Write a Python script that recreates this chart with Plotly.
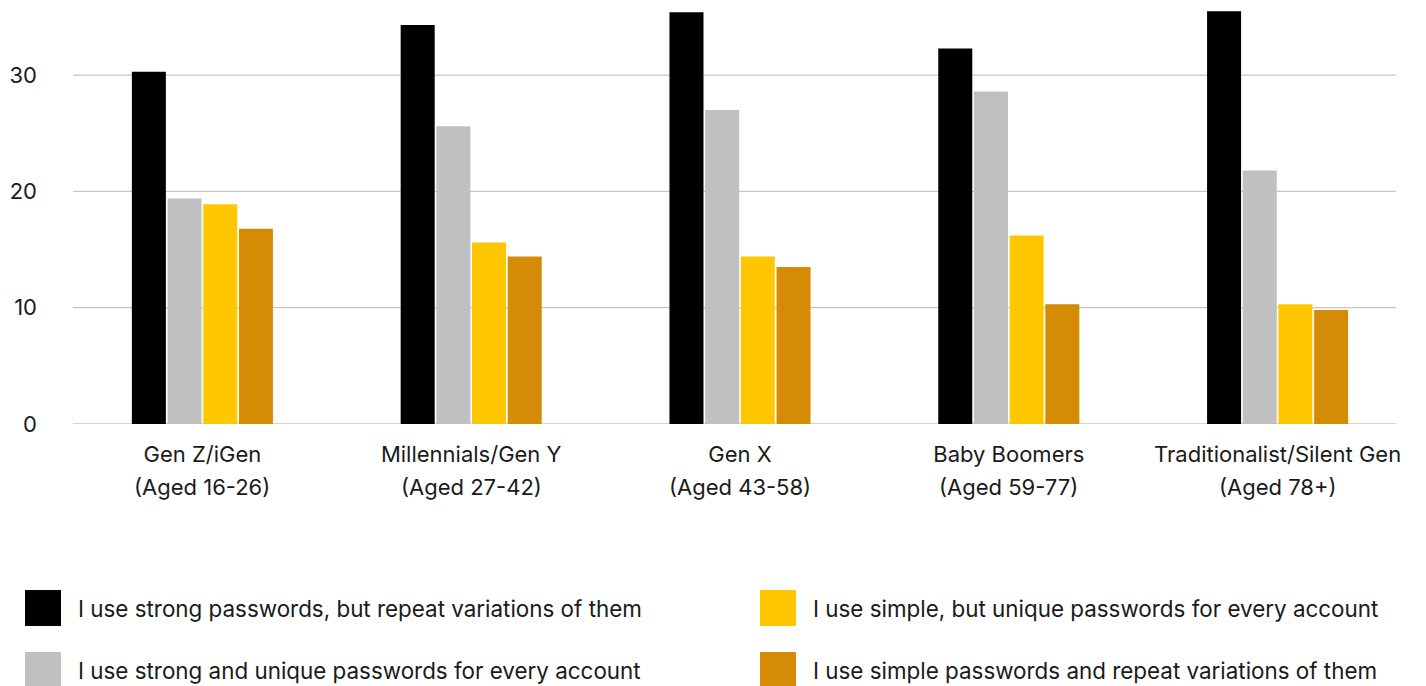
import plotly.graph_objects as go

# Generations surveyed and their age brackets
generations = ["Gen Z/iGen", "Millennials/Gen Y", "Gen X", "Baby Boomers", "Traditionalist/Silent Gen"]
age_ranges = ["(Aged 16-26)", "(Aged 27-42)", "(Aged 43-58)", "(Aged 59-77)", "(Aged 78+)"]

# Share of respondents (%) per password habit
strong_repeat = [30.3, 34.3, 35.4, 32.3, 35.5]
strong_unique = [19.4, 25.6, 27.0, 28.6, 21.8]
simple_unique = [18.9, 15.6, 14.4, 16.2, 10.3]
simple_repeat = [16.8, 14.4, 13.5, 10.3, 9.8]

y_ticks = [0, 10, 20, 30]

series_names = [
    "I use strong passwords, but repeat variations of them",
    "I use strong and unique passwords for every account",
    "I use simple, but unique passwords for every account",
    "I use simple passwords and repeat variations of them",
]
series_values = [strong_repeat, strong_unique, simple_unique, simple_repeat]
colors = ["#000000", "#C0C0C0", "#FFC700", "#D68B06"]

FONT = "Inter"
TEXT = "#1a1a1a"
GRID = "#C6C6C6"

W, H = 1426, 686
ML, MR, MT, MB = 68, 14, 10, 262
PW, PH = W - ML - MR, H - MT - MB


def px_x(px):
    return (px - ML) / PW


def px_y(py):
    return (H - MB - py) / PH


fig = go.Figure()
for name, vals, col in zip(series_names, series_values, colors):
    fig.add_trace(go.Bar(
        x=generations, y=vals, name=name,
        marker=dict(color=col, line=dict(width=0)),
        showlegend=False,
    ))

shapes = []
# horizontal value gridlines (slightly inset from the plot edges)
for v in y_ticks:
    shapes.append(dict(
        type="line", xref="paper", yref="y",
        x0=px_x(73), x1=px_x(1396), y0=v, y1=v,
        line=dict(color=GRID, width=1.3), layer="below",
    ))

annotations = []
for gen, age in zip(generations, age_ranges):
    annotations.append(dict(
        x=gen, xref="x", y=px_y(487), yref="paper", text=age,
        showarrow=False, xanchor="center", yanchor="middle",
        font=dict(family=FONT, size=22, color=TEXT),
    ))

legend_pos = [(25, 608), (25, 670), (760, 608), (760, 670)]
for (sx, sy), name, col in zip(legend_pos, series_names, colors):
    shapes.append(dict(
        type="rect", xref="paper", yref="paper",
        x0=px_x(sx), x1=px_x(sx + 36), y0=px_y(sy + 18), y1=px_y(sy - 18),
        fillcolor=col, line=dict(width=0), layer="above",
    ))
    annotations.append(dict(
        x=px_x(sx + 51), xref="paper", y=px_y(sy), yref="paper", text=name,
        showarrow=False, xanchor="left", yanchor="middle",
        font=dict(family=FONT, size=22.4, color=TEXT),
    ))

fig.update_layout(
    width=W, height=H,
    margin=dict(l=ML, r=MR, t=MT, b=MB),
    paper_bgcolor="white", plot_bgcolor="white",
    barmode="group", bargap=0.469, bargroupgap=0.047,
    showlegend=False,
    font=dict(family=FONT, color=TEXT),
    xaxis=dict(
        showgrid=False, showline=False, ticks="",
        tickfont=dict(family=FONT, size=22, color=TEXT),
        ticklabelstandoff=15,
    ),
    yaxis=dict(
        range=[0, 35.6], tickvals=y_ticks,
        showgrid=False, zeroline=False,
        showline=False, ticks="",
        tickfont=dict(family=FONT, size=22, color=TEXT),
        ticklabelstandoff=30,
    ),
    annotations=annotations,
    shapes=shapes,
)

fig.write_html("out.html")
